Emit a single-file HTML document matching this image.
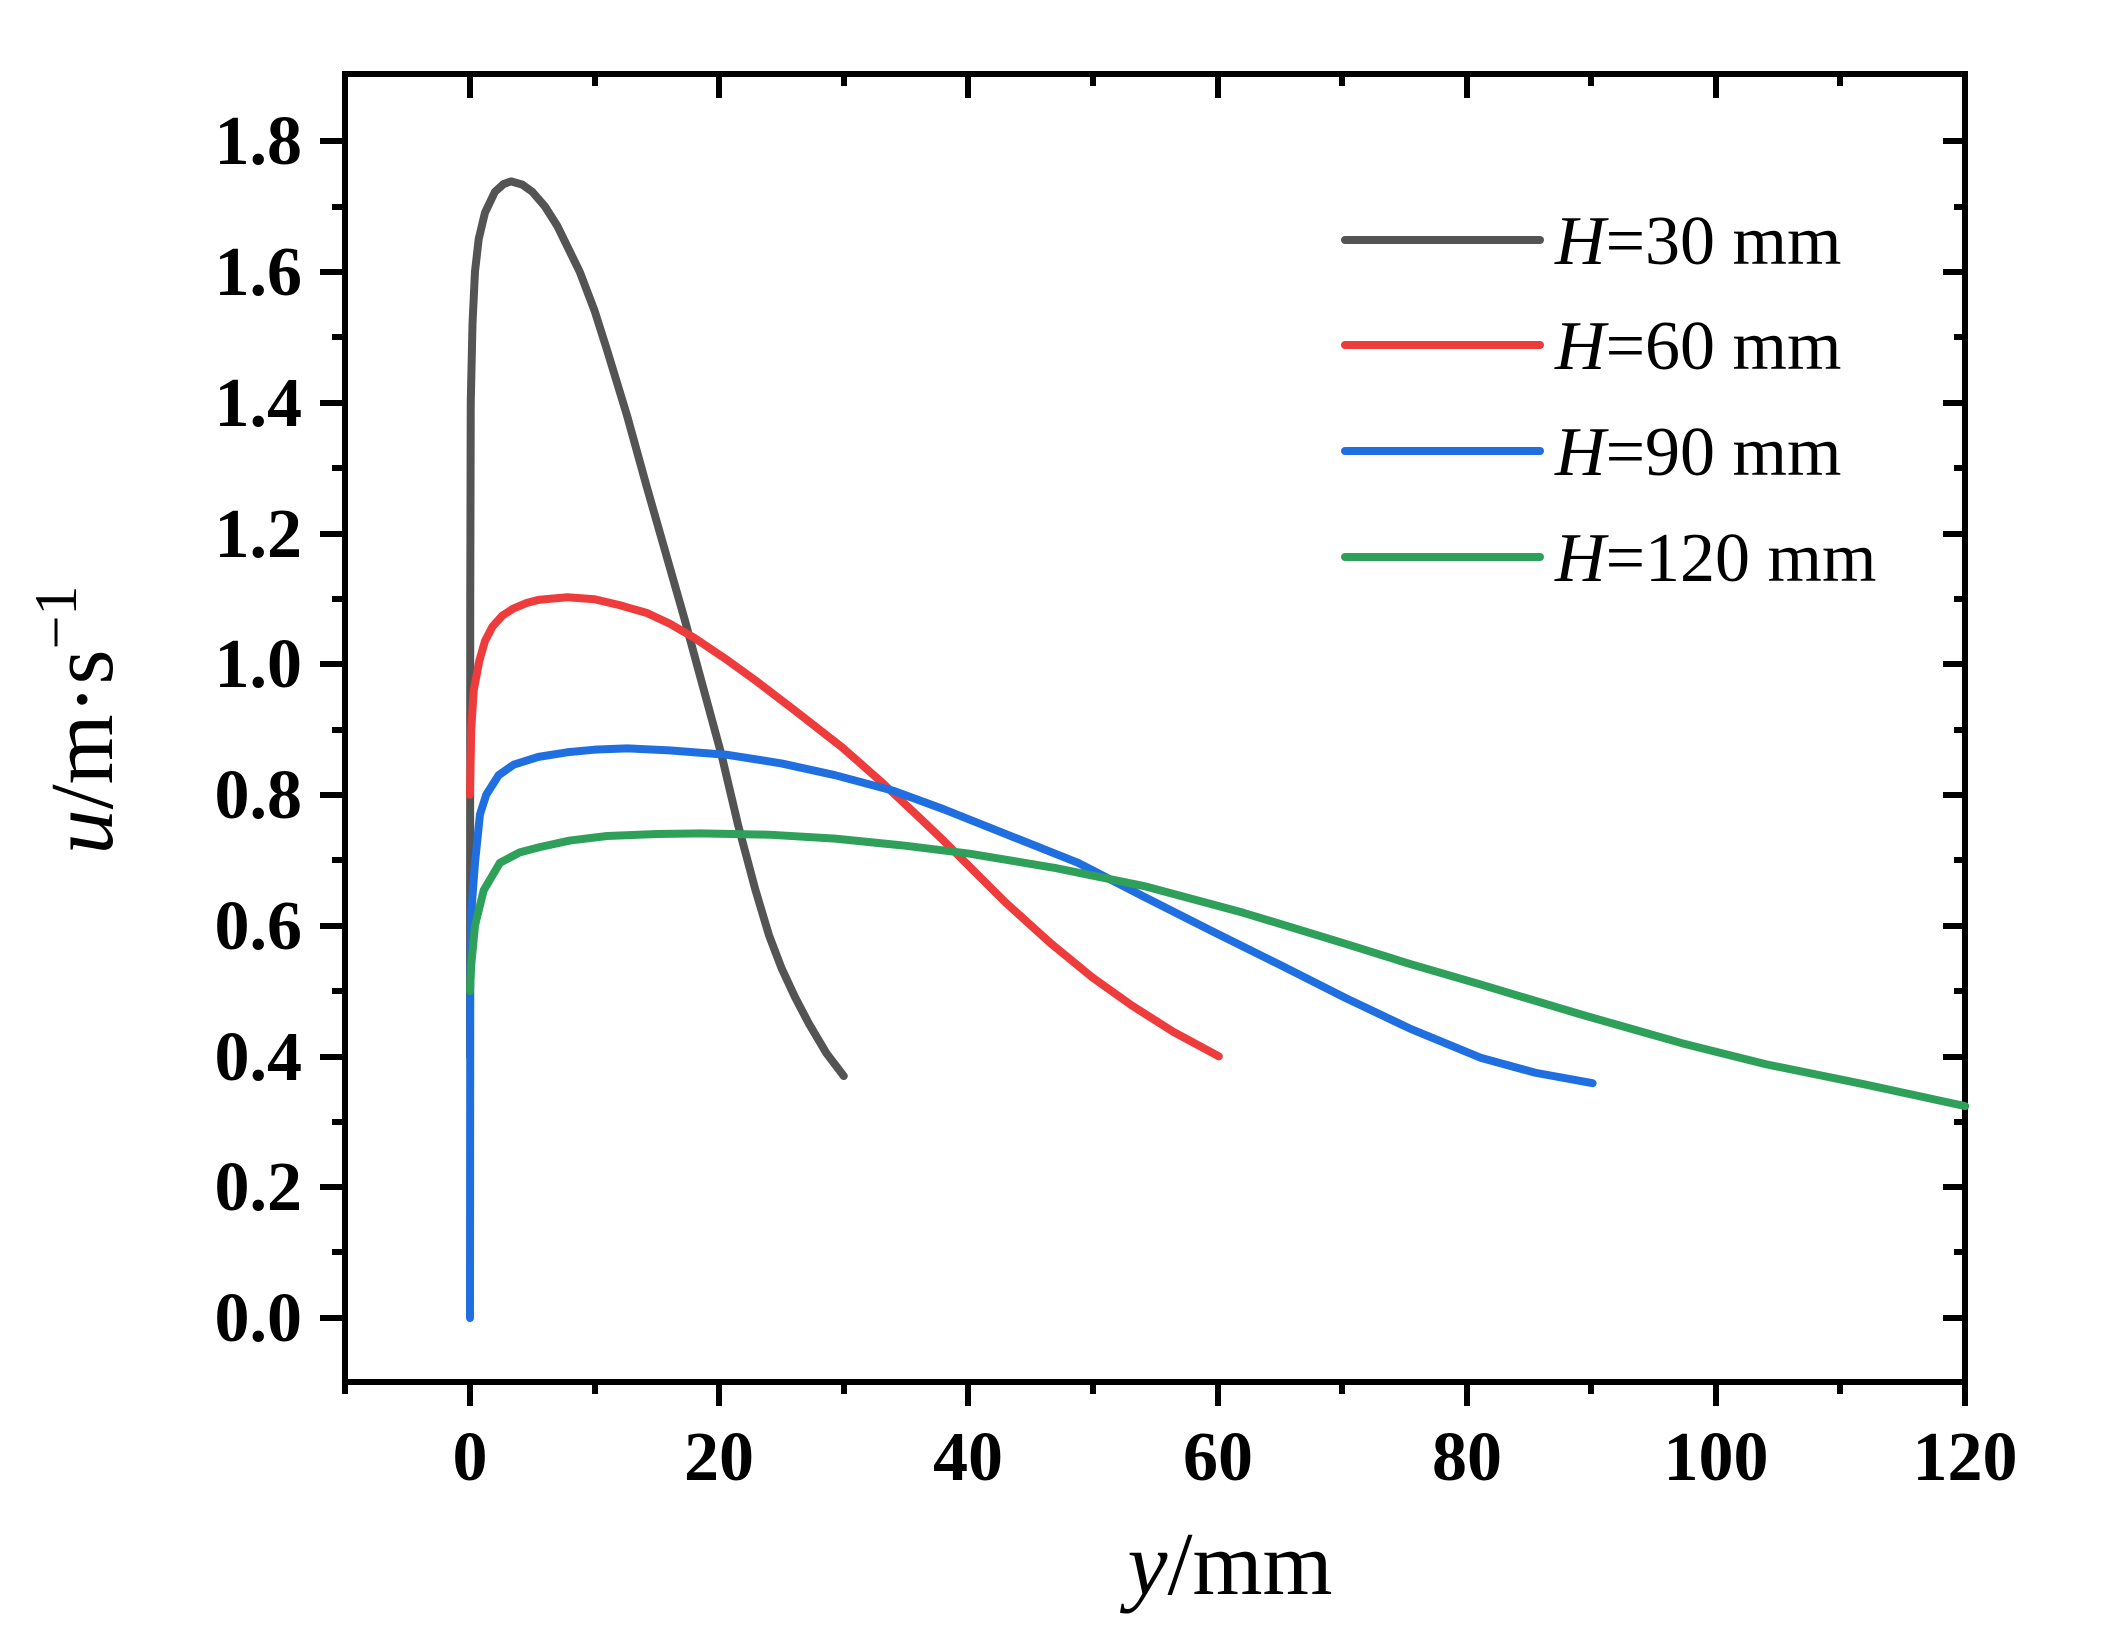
<!DOCTYPE html>
<html><head><style>html,body{margin:0;padding:0;background:#fff}</style></head>
<body>
<svg width="2112" height="1641" viewBox="0 0 2112 1641" xmlns="http://www.w3.org/2000/svg" font-family="Liberation Serif, serif">
<rect width="2112" height="1641" fill="#fff"/>
<g stroke="#000" stroke-width="6" fill="none">
<rect x="345" y="74" width="1620" height="1308"/>
<path d="M320 1318H345M320 1187H345M320 1057H345M320 926H345M320 795H345M320 664H345M320 534H345M320 403H345M320 272H345M320 141H345"/>
<path d="M332 1252H345M332 1122H345M332 991H345M332 860H345M332 730H345M332 599H345M332 468H345M332 337H345M332 207H345"/>
<path d="M1965 1318H1943M1965 1187H1943M1965 1057H1943M1965 926H1943M1965 795H1943M1965 664H1943M1965 534H1943M1965 403H1943M1965 272H1943M1965 141H1943"/>
<path d="M1965 1252H1954M1965 1122H1954M1965 991H1954M1965 860H1954M1965 730H1954M1965 599H1954M1965 468H1954M1965 337H1954M1965 207H1954"/>
<path d="M470 1382V1406M719 1382V1406M968 1382V1406M1218 1382V1406M1467 1382V1406M1716 1382V1406M1965 1382V1406"/>
<path d="M345 1382V1394M595 1382V1394M844 1382V1394M1093 1382V1394M1342 1382V1394M1591 1382V1394M1840 1382V1394"/>
<path d="M470 74V98M719 74V98M968 74V98M1218 74V98M1467 74V98M1716 74V98"/>
<path d="M595 74V86M844 74V86M1093 74V86M1342 74V86M1591 74V86M1840 74V86"/>
</g>
<g font-size="70" font-weight="bold" text-anchor="end">
<text x="302" y="1341">0.0</text><text x="302" y="1210">0.2</text><text x="302" y="1080">0.4</text>
<text x="302" y="949">0.6</text><text x="302" y="818">0.8</text><text x="302" y="687">1.0</text>
<text x="302" y="557">1.2</text><text x="302" y="426">1.4</text><text x="302" y="295">1.6</text><text x="302" y="164">1.8</text>
</g>
<g font-size="70" font-weight="bold" text-anchor="middle">
<text x="470" y="1480">0</text><text x="719" y="1480">20</text><text x="968" y="1480">40</text>
<text x="1218" y="1480">60</text><text x="1467" y="1480">80</text><text x="1716" y="1480">100</text><text x="1965" y="1480">120</text>
</g>
<text x="1230" y="1594" font-size="90" text-anchor="middle"><tspan font-style="italic">y</tspan>/mm</text>
<text transform="translate(112,720) rotate(-90)" font-size="90" text-anchor="middle"><tspan font-style="italic">u</tspan>/m·s<tspan font-size="60" dy="-36">−1</tspan></text>
<g fill="none" stroke-width="8" stroke-linejoin="round" stroke-linecap="round">
<g transform="translate(470,1318) scale(12.46,-654)">
<polyline vector-effect="non-scaling-stroke" stroke="#545454" points="0,0.4 0.02,1.1 0.06,1.4 0.2,1.52 0.4,1.6 0.7,1.65 1.2,1.69 2,1.722 2.7,1.734 3.3,1.738 4.2,1.733 5,1.722 6,1.70 7,1.67 8.8,1.6 10,1.54 11,1.48 12.6,1.38 14.2,1.27 15.7,1.17 17.2,1.07 18.7,0.965 20.2,0.86 21.5,0.755 22.9,0.655 24,0.585 25,0.535 26.1,0.49 27.2,0.45 28.6,0.405 30,0.37"/>
<polyline vector-effect="non-scaling-stroke" stroke="#ee3b3b" points="0,0.8 0.1,0.9 0.3,0.96 0.75,1.005 1.2,1.035 1.8,1.057 2.6,1.074 3.5,1.085 4.5,1.093 5.5,1.098 7.8,1.102 10,1.099 12,1.09 14.2,1.078 16,1.062 18,1.04 20.5,1.008 22.9,0.975 26,0.93 29.9,0.872 33,0.82 35.8,0.77 38,0.73 40.1,0.69 43,0.635 46.6,0.573 50,0.52 53.1,0.478 56.5,0.437 60.1,0.40"/>
<polyline vector-effect="non-scaling-stroke" stroke="#1f6fe0" points="0,0 0.02,0.5 0.1,0.62 0.4,0.696 0.8,0.77 1.3,0.80 2.3,0.83 3.5,0.846 5.5,0.858 7.8,0.865 10,0.869 12.6,0.871 16,0.868 20.7,0.861 25,0.848 29.3,0.83 34,0.806 38,0.778 43,0.74 48.8,0.696 54,0.645 59.5,0.592 65,0.54 70.3,0.489 75.5,0.442 81.1,0.398 85.5,0.375 90.1,0.359"/>
<polyline vector-effect="non-scaling-stroke" stroke="#2ea05a" points="0,0.5 0.1,0.54 0.4,0.6 1.1,0.654 2.4,0.696 4,0.712 5.6,0.72 8,0.73 11,0.737 15,0.740 18.5,0.741 24,0.739 29.3,0.733 35,0.722 40.1,0.71 47,0.688 54.2,0.66 62,0.62 70.3,0.572 75.5,0.541 81.1,0.51 89,0.465 97.3,0.42 104,0.388 112,0.357 120,0.324"/>
</g>
<path d="M1345 240H1540" stroke="#545454"/>
<path d="M1345 345H1540" stroke="#ee3b3b"/>
<path d="M1345 451H1540" stroke="#1f6fe0"/>
<path d="M1345 557H1540" stroke="#2ea05a"/>
</g>
<g font-size="70">
<text x="1555" y="264"><tspan font-style="italic">H</tspan>=30 mm</text>
<text x="1555" y="369"><tspan font-style="italic">H</tspan>=60 mm</text>
<text x="1555" y="475"><tspan font-style="italic">H</tspan>=90 mm</text>
<text x="1555" y="581"><tspan font-style="italic">H</tspan>=120 mm</text>
</g>
</svg>
</body></html>
